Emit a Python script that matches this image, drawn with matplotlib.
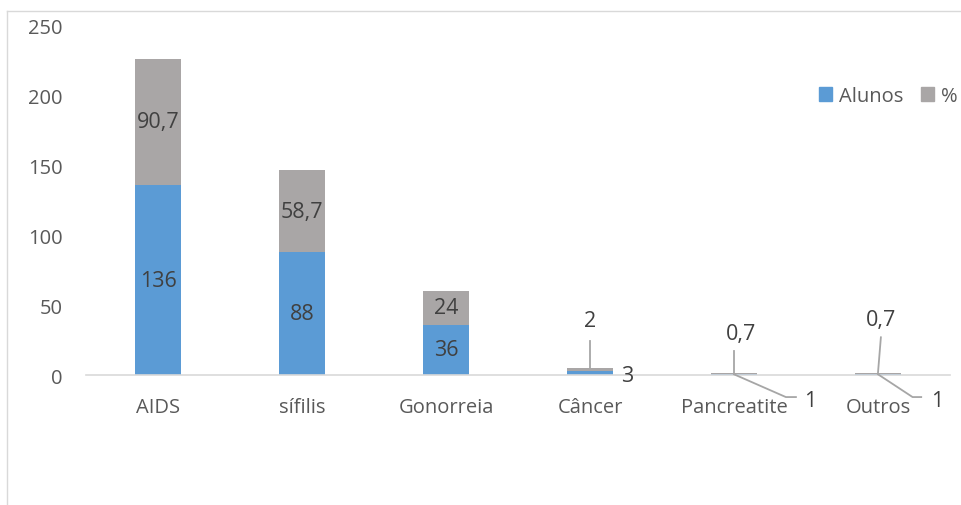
import matplotlib
matplotlib.use("Agg")
import matplotlib.pyplot as plt
from matplotlib.patches import Patch
from matplotlib.lines import Line2D

categories = ["AIDS", "sífilis", "Gonorreia", "Câncer", "Pancreatite", "Outros"]
alunos = [136, 88, 36, 3, 1, 1]
pct = [90.7, 58.7, 24, 2, 0.7, 0.7]
pct_labels = ["90,7", "58,7", "24", "2", "0,7", "0,7"]
alunos_labels = [str(v) for v in alunos]
yticks = [0, 50, 100, 150, 200, 250]

BLUE = "#5B9BD5"
GRAY = "#A9A6A6"
TXT = "#595959"
LBL = "#404040"
LEAD = "#A6A6A6"

plt.rcParams['font.family'] = ['Open Sans', 'DejaVu Sans']

fig = plt.figure(figsize=(9.61, 5.06), dpi=100)
ax = fig.add_axes([86/961, 1-376/506, 864/961, 349/506])

x = list(range(len(categories)))
w = 46/144
ax.bar(x, alunos, width=w, color=BLUE, label="Alunos", zorder=2)
ax.bar(x, pct, width=w, bottom=alunos, color=GRAY, label="%", zorder=2)

ax.set_xlim(-0.5, len(categories)-0.5)
ax.set_ylim(0, 250)
ax.set_yticks(yticks)
ax.set_yticklabels([str(t) for t in yticks])
ax.set_xticks(x)
ax.set_xticklabels(categories)
ax.tick_params(axis='both', length=0, labelsize=14.5, colors=TXT)
ax.tick_params(axis='y', pad=17)
ax.tick_params(axis='x', pad=16)
for s in ['top', 'right', 'left']:
    ax.spines[s].set_visible(False)
ax.spines['bottom'].set_color("#D9D9D9")
ax.spines['bottom'].set_linewidth(1.2)

fs = 15.5
# inside labels for big bars
for i in range(3):
    ax.text(i, alunos[i]/2, alunos_labels[i], ha='center', va='center', fontsize=fs, color=LBL, zorder=3)
    ax.text(i, alunos[i]+pct[i]/2, pct_labels[i], ha='center', va='center', fontsize=fs, color=LBL, zorder=3)

kw = dict(color=LEAD, lw=1.3, clip_on=False, zorder=3)
# Câncer
i = 3
ax.text(i, 38.7, pct_labels[i], ha='center', va='center', fontsize=fs, color=LBL)
ax.plot([i, i], [24.4, alunos[i]+pct[i]], **kw)
ax.text(i+0.26, 0, alunos_labels[i], ha='center', va='center', fontsize=fs, color=LBL)
# Pancreatite
i = 4
ax.text(i+0.05, 30, pct_labels[i], ha='center', va='center', fontsize=fs, color=LBL)
ax.plot([i, i], [17.2, alunos[i]+pct[i]], **kw)
ax.text(i+0.53, -18.6, alunos_labels[i], ha='center', va='center', fontsize=fs, color=LBL, clip_on=False)
ax.plot([i, i+0.36, i+0.43], [0.5, -15.8, -15.8], **kw)
# Outros
i = 5
ax.text(i+0.02, 40, pct_labels[i], ha='center', va='center', fontsize=fs, color=LBL)
ax.plot([i+0.02, i], [27, alunos[i]+pct[i]], **kw)
ax.text(i+0.41, -18.6, alunos_labels[i], ha='center', va='center', fontsize=fs, color=LBL, clip_on=False)
ax.plot([i, i+0.24, i+0.30], [0.5, -15.8, -15.8], **kw)

handles = [Patch(color=BLUE, label="Alunos"), Patch(color=GRAY, label="%")]
leg = ax.legend(handles=handles, loc='center right', bbox_to_anchor=(958/961, 1-97/506),
                bbox_transform=fig.transFigure, ncol=2, frameon=False, fontsize=14.5,
                handlelength=0.65, handleheight=0.65, handletextpad=0.35, columnspacing=0.9,
                borderaxespad=0, borderpad=0)
for t in leg.get_texts():
    t.set_color(TXT)

# chart frame
fig.add_artist(Line2D([7/961, 7/961], [0, 1-12/506], transform=fig.transFigure, color="#D9D9D9", lw=1))
fig.add_artist(Line2D([7/961, 1], [1-12/506, 1-12/506], transform=fig.transFigure, color="#D9D9D9", lw=1))

fig.savefig("out.png", dpi=100)
